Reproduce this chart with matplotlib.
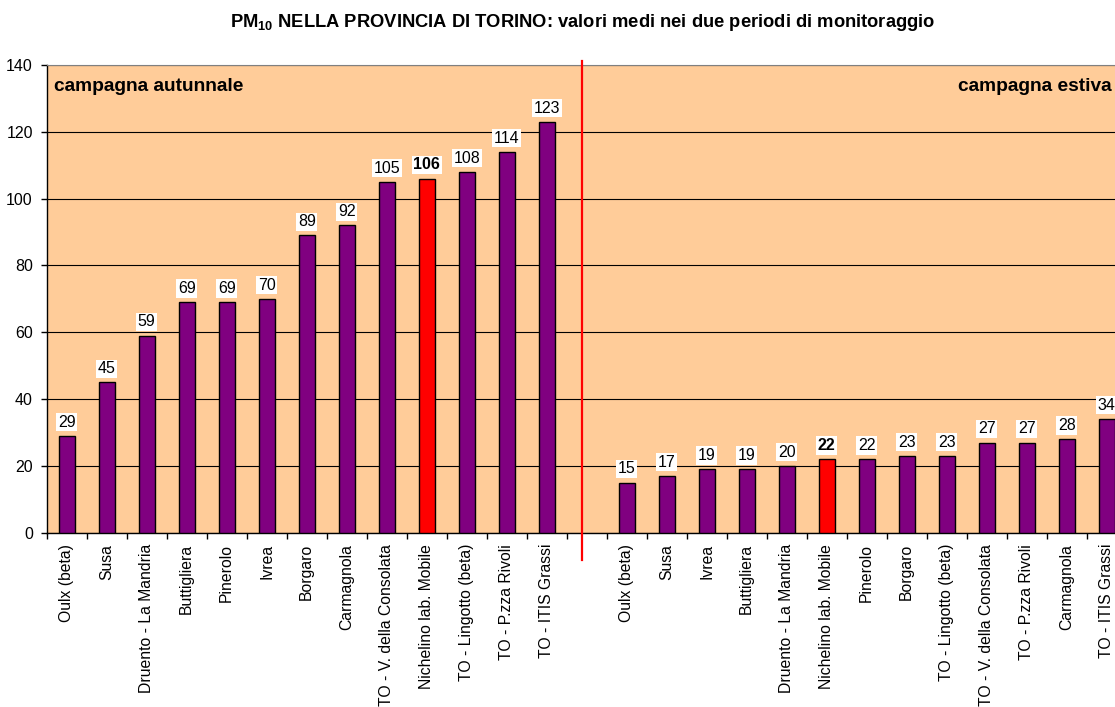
import matplotlib
matplotlib.use('Agg')
import matplotlib.pyplot as plt
import numpy as np

plt.rcParams['font.family'] = ['Liberation Sans', 'DejaVu Sans']
plt.rcParams['mathtext.fontset'] = 'custom'
plt.rcParams['mathtext.rm'] = 'Liberation Sans'
plt.rcParams['mathtext.bf'] = 'Liberation Sans:bold'

# Data
autumn_sites = ['Oulx (beta)', 'Susa', 'Druento - La Mandria', 'Buttigliera', 'Pinerolo',
                'Ivrea', 'Borgaro', 'Carmagnola', 'TO - V. della Consolata',
                'Nichelino lab. Mobile', 'TO - Lingotto (beta)', 'TO - P.zza Rivoli',
                'TO - ITIS Grassi']
autumn_values = [29, 45, 59, 69, 69, 70, 89, 92, 105, 106, 108, 114, 123]

summer_sites = ['Oulx (beta)', 'Susa', 'Ivrea', 'Buttigliera', 'Druento - La Mandria',
                'Nichelino lab. Mobile', 'Pinerolo', 'Borgaro', 'TO - Lingotto (beta)',
                'TO - V. della Consolata', 'TO - P.zza Rivoli', 'Carmagnola',
                'TO - ITIS Grassi']
summer_values = [15, 17, 19, 19, 20, 22, 22, 23, 23, 27, 27, 28, 34]

highlight = 'Nichelino lab. Mobile'

labels = autumn_sites + [''] + summer_sites
values = autumn_values + [np.nan] + summer_values

PURPLE = '#800080'
RED = '#FF0000'
PEACH = '#FFCC99'

fig = plt.figure(figsize=(11.15, 7.07), dpi=100)
# axes is wider than the figure: the last category is cut at the right edge, as in the original
ax = fig.add_axes([46.7 / 1115, (707 - 532.7) / 707, 1080 / 1115, 467.7 / 707])
ax.set_facecolor(PEACH)

x = np.arange(len(labels))
colors = [RED if lab == highlight else PURPLE for lab in labels]
bars = ax.bar(x, values, width=0.4, color=colors, edgecolor='black', linewidth=1.0, zorder=3)

# Value labels
for xi, v, lab in zip(x, values, labels):
    if np.isnan(v):
        continue
    ax.annotate(f'{int(v)}', xy=(xi, v), xytext=(0, 4.5), textcoords='offset points',
                ha='center', va='bottom', fontsize=11.5,
                fontweight='bold' if lab == highlight else 'normal',
                bbox=dict(boxstyle='square,pad=0.1', facecolor='white', edgecolor='none'),
                zorder=5)

ax.set_xlim(-0.5, len(labels) - 0.5)
ax.set_ylim(0, 140)
ax.set_yticks(np.arange(0, 141, 20))
ax.yaxis.grid(True, color='black', linewidth=0.8, zorder=1)
ax.set_axisbelow(True)

ax.set_xticks(x)
ax.set_xticklabels(labels, rotation=90, fontsize=11.3, va='top', ha='center')
ax.set_xticks(np.arange(-0.5, len(labels), 1), minor=True)
ax.tick_params(axis='x', which='major', length=0, pad=8)
ax.tick_params(axis='x', which='minor', length=4, width=1, direction='out')
ax.tick_params(axis='y', length=4, width=1, direction='out', labelsize=11.5, pad=6)

ax.spines['right'].set_visible(False)
ax.spines['top'].set_color('#808080')
ax.spines['left'].set_linewidth(1)
ax.spines['bottom'].set_linewidth(1)

# Separator between the two campaigns
ax.plot([12.875, 12.875], [-8.3, 141.2], color=RED, linewidth=1.6, clip_on=False, zorder=6)

ax.text(-0.33, 133.5, 'campagna autunnale', fontsize=13.8, fontweight='bold', va='center', ha='left')
ax.text(22.28, 133.5, 'campagna estiva', fontsize=13.8, fontweight='bold', va='center', ha='left')

fig.text(0.523, 0.968, r'PM$_{\mathbf{10}}$ NELLA PROVINCIA DI TORINO: valori medi nei due periodi di monitoraggio',
         ha='center', va='center', fontsize=13.2, fontweight='bold')

plt.savefig('out.png', dpi=100)
plt.close()
